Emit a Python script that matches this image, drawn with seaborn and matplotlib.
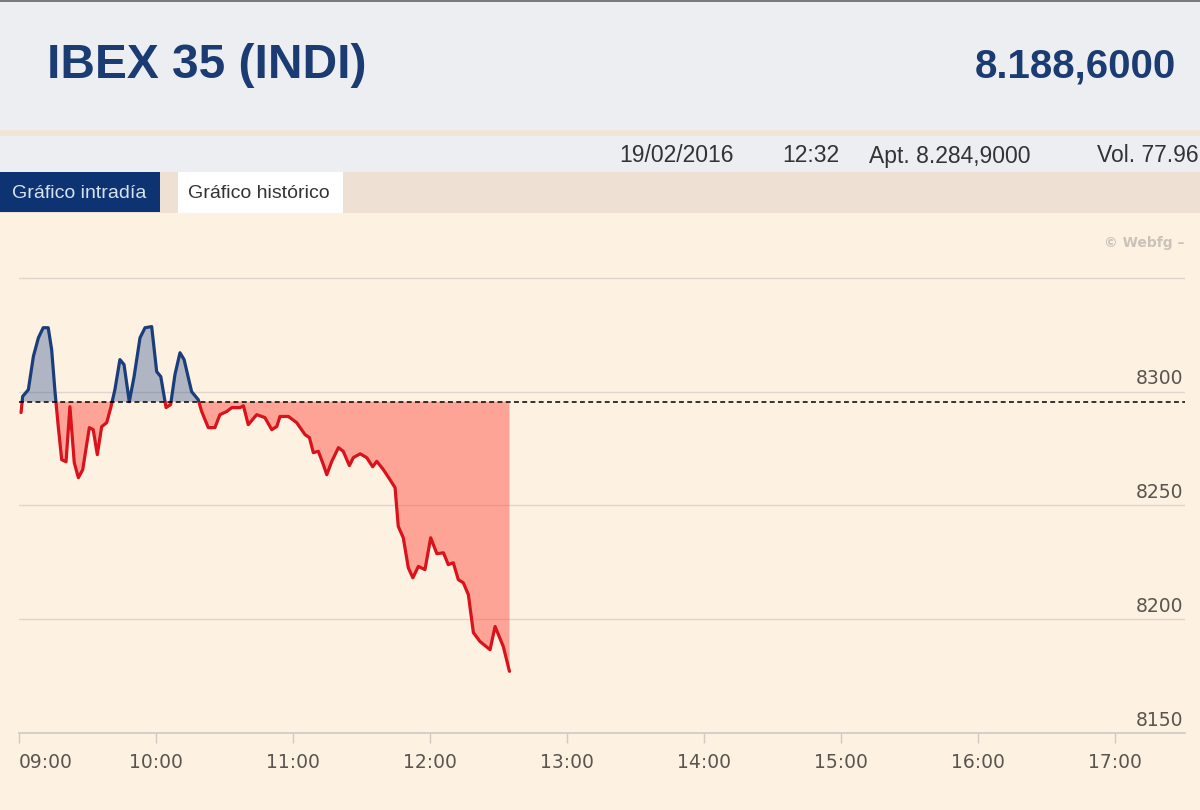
import numpy as np
import pandas as pd
import matplotlib
matplotlib.use("Agg")
import matplotlib.pyplot as plt
from matplotlib.patches import Rectangle
import seaborn as sns

# ---------------- data ----------------
title = "IBEX 35 (INDI)"
last_value_label = "8.188,6000"
info_labels = ["19/02/2016", "12:32", "Apt. 8.284,9000", "Vol. 77.96"]
tab_labels = ["Gráfico intradía", "Gráfico histórico"]
watermark = "\u00a9 Webfg \u2013"

hour_ticks = [9, 10, 11, 12, 13, 14, 15, 16, 17]
hour_labels = ["09:00", "10:00", "11:00", "12:00", "13:00", "14:00", "15:00", "16:00", "17:00"]
y_label_values = [8150, 8200, 8250, 8300]
grid_values = [8200, 8250, 8300, 8350]
prev_close = 8295.6

# minutes after 09:00
minutes = [0.9, 1.6, 4.1, 6.3, 8.5, 10.6, 12.8, 14.3, 15.8, 17.2, 18.7, 20.6, 22.3, 24.2,
           26.0, 27.9, 30.8, 32.5, 34.3, 36.2, 38.4, 40.3, 42.0, 44.2, 46.0, 48.3, 50.4,
           53.0, 55.2, 58.1, 60.3, 62.1, 64.4, 66.4, 68.3, 70.5, 72.3, 75.6, 78.5, 80.0,
           82.9, 85.8, 88.0, 91.0, 93.2, 96.8, 98.3, 100.4, 104.1, 107.7, 110.7, 112.9,
           114.3, 118.0, 121.6, 125.3, 127.2, 128.9, 131.1, 133.3, 134.8, 137.0, 139.9,
           142.0, 144.7, 146.4, 149.4, 152.3, 154.9, 156.7, 159.6, 162.5, 164.7, 166.1,
           168.3, 170.5, 172.5, 174.9, 177.8, 180.3, 183.0, 185.9, 188.0, 190.2, 192.4,
           194.6, 196.8, 199.0, 201.9, 206.3, 208.5, 212.1, 214.8]
values = [8290.8, 8297.9, 8300.9, 8315.5, 8323.7, 8328.1, 8328.1, 8318.5, 8299.6, 8284.6,
          8270.1, 8269.2, 8293.4, 8268.8, 8262.2, 8265.7, 8284.2, 8283.3, 8272.3, 8284.6,
          8286.4, 8293.4, 8300.9, 8314.1, 8311.9, 8295.6, 8306.6, 8323.7, 8328.1, 8328.6,
          8308.8, 8306.6, 8293.0, 8294.3, 8307.5, 8317.1, 8314.1, 8300.0, 8296.5, 8291.3,
          8284.2, 8284.2, 8289.9, 8291.3, 8293.0, 8293.0, 8293.8, 8285.5, 8289.9, 8288.6,
          8283.3, 8284.7, 8289.1, 8289.1, 8286.4, 8281.1, 8279.8, 8273.2, 8273.8, 8267.9,
          8263.5, 8269.4, 8275.4, 8273.8, 8267.5, 8271.0, 8272.7, 8271.0, 8267.0, 8269.4,
          8265.7, 8261.3, 8257.8, 8240.8, 8235.8, 8222.6, 8218.2, 8223.2, 8221.8, 8235.8,
          8228.8, 8229.2, 8224.0, 8224.8, 8217.4, 8216.0, 8210.8, 8194.1, 8190.2, 8186.6,
          8196.8, 8188.0, 8177.1]

# ---------------- style ----------------
BG = "#FDF1E2"
HEADER = "#ECEEF1"
TABROW = "#EEE1D3"
NAVY = "#1B3C73"
NAVY_TAB = "#0E3373"
RED_LINE = "#D9121B"
BLUE_LINE = "#1A3D7C"
GRID = "#DDD6CD"
AXIS = "#CFCAC3"
TXT_GREY = "#5A554E"

sns.set_theme(style="white")
plt.rcParams["font.family"] = ["DejaVu Sans"]

W, H = 1200, 810
fig = plt.figure(figsize=(12, 8.1), dpi=100, facecolor=BG)


def prect(x, y, w, h, color, z=0):
    fig.add_artist(Rectangle((x / W, 1 - (y + h) / H), w / W, h / H,
                             transform=fig.transFigure, facecolor=color,
                             edgecolor="none", zorder=z))


def ptext(x, y, s, **kw):
    fig.text(x / W, 1 - y / H, s, **kw)


# header blocks
prect(0, 0, W, 130, HEADER)
prect(0, 0, W, 2, "#7A7A7A")
prect(0, 130, W, 6, "#F1E5D8")
prect(0, 136, W, 36, HEADER)
prect(0, 172, W, 41, TABROW)
prect(0, 172, 160, 40, NAVY_TAB, 1)
prect(178, 172, 165, 41, "white", 1)

ptext(47, 66, title, family="Liberation Sans", weight="bold", fontsize=34.5,
      color=NAVY, va="center", ha="left")
ptext(1176, 66, last_value_label, family="Liberation Sans", weight="bold", fontsize=29,
      color=NAVY, va="center", ha="right")

info_x = [619, 782, 869, 1097]
for xx, s in zip(info_x, info_labels):
    ptext(xx, 156, s, family="Liberation Sans", fontsize=16.5, color="#333333",
          va="center", ha="left")

ptext(12, 193, tab_labels[0], family="Liberation Sans", fontsize=14, color="#D6E2EE",
      va="center", ha="left", zorder=2)
ptext(188, 193, tab_labels[1], family="Liberation Sans", fontsize=14, color="#333333",
      va="center", ha="left", zorder=2)

ptext(1185, 243, watermark, fontsize=10, weight="bold", color="#CBC3BA",
      va="center", ha="right")

# ---------------- chart ----------------
ax = fig.add_axes([19 / W, (H - 733) / H, 1166 / W, 479 / H])
ax.patch.set_visible(False)

df = pd.DataFrame({"hour": 9 + np.array(minutes) / 60.0, "value": values})

x0, x1 = 9.0, 9.0 + 1166 / 137.0
ax.set_xlim(x0, x1)
ax.set_ylim(8150, 8360.5)

for g in grid_values:
    ax.axhline(g, color=GRID, lw=1.0, zorder=0.5)

xs = df["hour"].to_numpy()
ys = df["value"].to_numpy()
ax.fill_between(xs, ys, prev_close, where=ys >= prev_close, interpolate=True,
                color="#2A4C8C", alpha=0.36, lw=0, zorder=1)
ax.fill_between(xs, ys, prev_close, where=ys <= prev_close, interpolate=True,
                color="#FF3B2F", alpha=0.42, lw=0, zorder=1)

sns.lineplot(data=df, x="hour", y="value", ax=ax, color=RED_LINE, lw=2.3,
             sort=False, estimator=None, zorder=3)
red_line = ax.lines[-1]
sns.lineplot(data=df, x="hour", y="value", ax=ax, color=BLUE_LINE, lw=2.3,
             sort=False, estimator=None, zorder=3)
blue_line = ax.lines[-1]
for ln in (red_line, blue_line):
    ln.set_solid_joinstyle("round")
    ln.set_solid_capstyle("round")

below = Rectangle((x0 - 1, 8000), 20, prev_close - 8000, transform=ax.transData)
above = Rectangle((x0 - 1, prev_close), 20, 500, transform=ax.transData)
red_line.set_clip_path(below)
blue_line.set_clip_path(above)

ax.axhline(prev_close, color="black", lw=1.1, ls=(0, (3.2, 2.2)), zorder=4)

for v in y_label_values:
    ax.annotate(str(v), xy=(1, v), xycoords=("axes fraction", "data"),
                xytext=(-1.5, 2.5), textcoords="offset points", ha="right",
                va="bottom", fontsize=13.5, color=TXT_GREY, annotation_clip=False)

ax.set_xlabel("")
ax.set_ylabel("")
ax.set_yticks([])
ax.set_xticks(hour_ticks)
ax.set_xticklabels(hour_labels)
ax.tick_params(axis="x", direction="out", length=7.5, width=1, color=AXIS,
               labelsize=13.5, labelcolor=TXT_GREY, pad=7, bottom=True)
ax.get_xticklabels()[0].set_ha("left")
for side in ("top", "left", "right"):
    ax.spines[side].set_visible(False)
ax.spines["bottom"].set_color(AXIS)
ax.spines["bottom"].set_linewidth(1.2)

fig.savefig("out.png", dpi=100, facecolor=BG)
